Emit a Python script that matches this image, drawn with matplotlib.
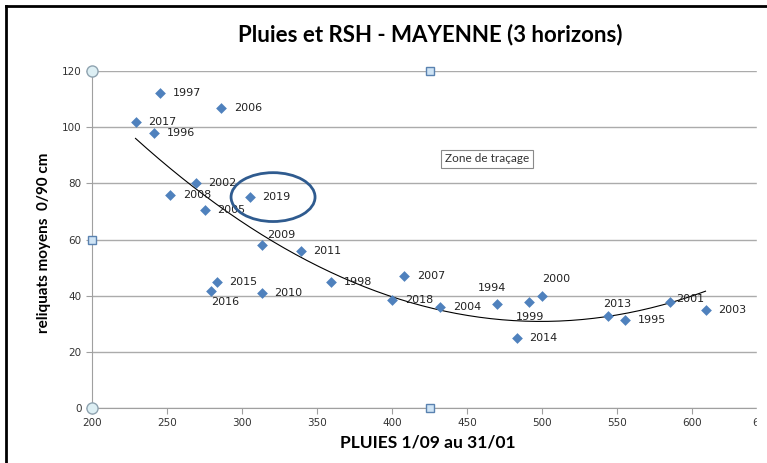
import matplotlib
matplotlib.use("Agg")
import matplotlib.pyplot as plt
import matplotlib.transforms as mtransforms
import numpy as np
from matplotlib.patches import Ellipse, Rectangle
from matplotlib.lines import Line2D

# data
years = ['1997', '2006', '2017', '1996', '2002', '2008', '2005', '2019', '2009',
         '2011', '2015', '2016', '2010', '1998', '2018', '2007', '2004', '1994',
         '1999', '2000', '2014', '2013', '1995', '2001', '2003']
pluies = [245, 286, 229, 241, 269, 252, 275, 305, 313,
          339, 283, 279, 313, 359, 400, 408, 432, 470,
          491, 500, 483, 544, 555, 585, 609]
rsh = [112, 107, 102, 98, 80, 76, 70.5, 75, 58,
       56, 45, 41.5, 41, 45, 38.5, 47, 35.8, 37,
       37.8, 39.8, 24.8, 32.8, 31.5, 37.8, 34.8]

# label offsets (pixels) for the labels not sitting to the right
label_pos = {'1994': (-5, 16, 'center'), '2000': (14, 17, 'center'),
             '2013': (9, 12, 'center'), '1999': (2, -15, 'center'),
             '2016': (15, -11, 'center'), '2009': (6, 10, 'left'),
             '2001': (7, 3, 'left')}

blue = '#4F81BD'
grid_c = '#ABABAB'

plt.rcParams['font.family'] = 'DejaVu Sans'
fig = plt.figure(figsize=(7.67, 4.63), dpi=100)
ax = fig.add_axes([92/767, 1 - 408/463, 675/767, 337/463])

ax.set_xlim(200, 650)
ax.set_ylim(0, 120)
ax.set_xticks(np.arange(200, 651, 50))
ax.set_yticks(np.arange(0, 121, 20))
ax.yaxis.grid(True, color=grid_c, lw=1)
ax.set_axisbelow(True)
for s in ['top', 'right']:
    ax.spines[s].set_visible(False)
for s in ['left', 'bottom']:
    ax.spines[s].set_color('#A0A0A0')
ax.tick_params(colors='#A0A0A0', length=4, labelsize=7.5, labelcolor='#333333')

# excel pulls the last x label inwards
last = ax.get_xticklabels()[-1]
last.set_transform(last.get_transform() + mtransforms.ScaledTranslation(-5/100, 0, fig.dpi_scale_trans))

# trend line (poly order 2, like excel)
coef = np.polyfit(pluies, rsh, 2)
xt = np.linspace(min(pluies), max(pluies), 200)
ax.plot(xt, np.polyval(coef, xt), color='black', lw=0.8, zorder=2)

ax.scatter(pluies, rsh, marker='D', s=30, color=blue, zorder=3, linewidths=0)

for yr, x, y in zip(years, pluies, rsh):
    dx, dy, ha = label_pos.get(yr, (13, 0, 'left'))
    ax.annotate(yr, (x, y), xytext=(dx, dy), textcoords='offset pixels',
                ha=ha, va='center', fontsize=8, color='#222222', zorder=4)

ax.add_patch(Ellipse((320.7, 75.1), 56, 17.4, fill=False, edgecolor='#2F5B8F',
                     lw=2, zorder=5))

# selection handles of the plot area
for xf, yf, kind in [(0, 1, 'o'), (0, 0, 'o'), (0, 0.5, 's'), (0.5, 1, 's'), (0.5, 0, 's')]:
    if kind == 'o':
        ax.plot(xf, yf, 'o', ms=8, mfc='#DDEFF4', mec='#8FA3B0', mew=1,
                transform=ax.transAxes, clip_on=False, zorder=6)
    else:
        ax.plot(xf, yf, 's', ms=6, mfc='#CFE4F5', mec='#5A82B0', mew=1,
                transform=ax.transAxes, clip_on=False, zorder=6)

fig.text(430/767, 1 - 35/463, 'Pluies et RSH - MAYENNE (3 horizons)', ha='center',
         va='center', fontsize=16, fontweight='bold', family='Lato')
fig.text(428/767, 1 - 443/463, 'PLUIES 1/09 au 31/01', ha='center', va='center',
         fontsize=12.5, fontweight='bold', family='Lato')
fig.text(44/767, 1 - 243/463, 'reliquats moyens  0/90 cm', ha='center', va='center',
         rotation=90, fontsize=11, fontweight='bold', family='Lato')

fig.text(445/767, 1 - 159/463, 'Zone de traçage', ha='left', va='center', fontsize=8.5,
         family='Lato', color='#333333',
         bbox=dict(boxstyle='square,pad=0.3', fc='white', ec='#8A8A8A', lw=0.8))

# outer frame, and the chart cut at the right
fig.add_artist(Rectangle((757/767, 0), 10/767, 1 - 10/463, color='white', zorder=20,
                         transform=fig.transFigure))
fig.add_artist(Line2D([6/767, 6/767], [0, 1 - 6/463], color='black', lw=2, zorder=21))
fig.add_artist(Line2D([6/767, 1], [1 - 6/463, 1 - 6/463], color='black', lw=2, zorder=21))

plt.savefig('out.png', dpi=100)
